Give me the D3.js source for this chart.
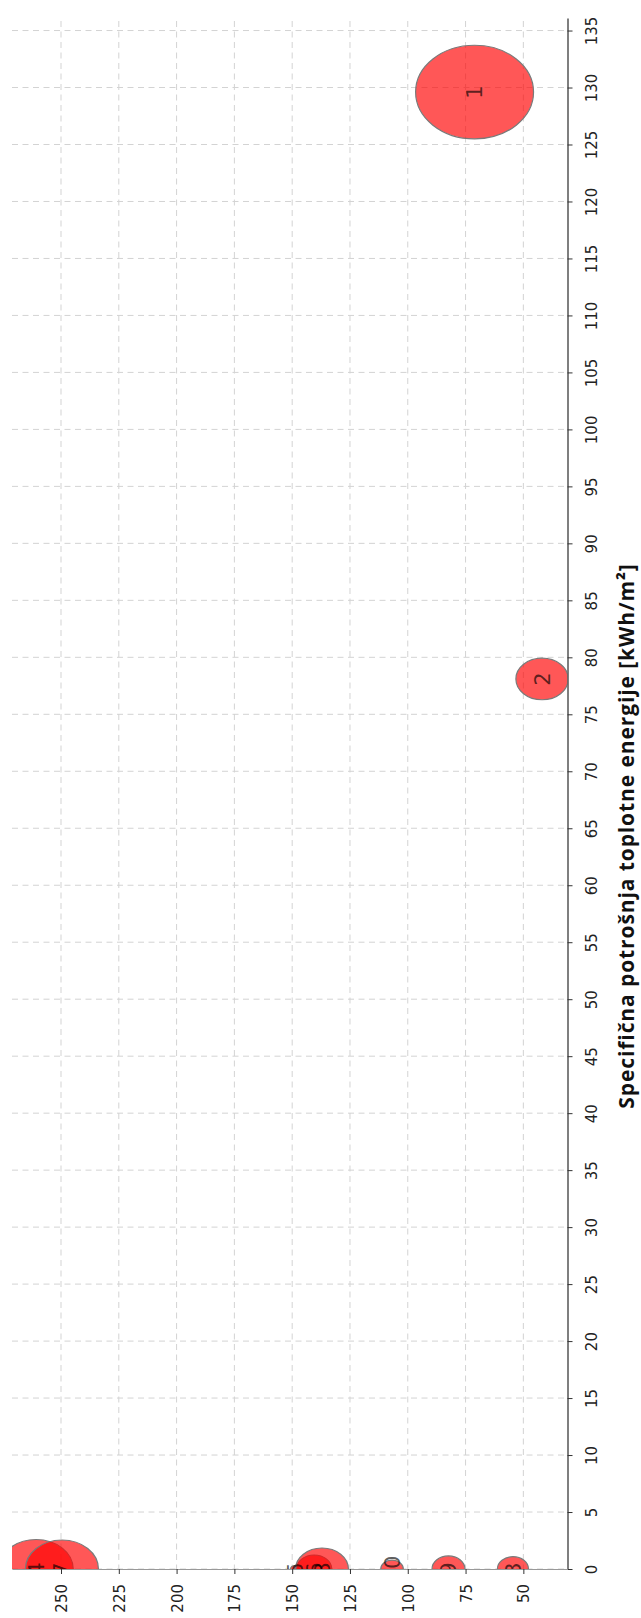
<!DOCTYPE html>
<html>
<head>
<meta charset="utf-8">
<script src="https://cdn.jsdelivr.net/npm/d3@7"></script>
<style>
  body { margin: 0; background: #fff; }
  svg { display: block; }
</style>
</head>
<body>
<div id="chart"></div>
<script>
// bubble data: label, horizontal value, consumption [kWh/m2], bubble size
var labels = ["1", "2", "3", "4", "5", "6", "7", "8", "9", "10"];
var hvalues = [71.1, 41.9, 54.5, 260.8, 148.8, 140.5, 249.6, 137.1, 82.4, 106.8];
var consumption = [129.6, 78.1, 0, 0, 0, 0, 0, 0, 0, 0];
var sizes = [1095, 216, 76, 435, 6, 98, 420, 220, 85, 40];

var rightTicks = d3.range(0, 136, 5);
var bottomTicks = [50, 75, 100, 125, 150, 175, 200, 225, 250];
var axisTitle = "Specifična potrošnja toplotne energije [kWh/m²]";

var width = 641;
var height = 1618;
var plotLeft = 12, plotRight = 567.5, plotTop = 18, plotBottom = 1569;

var svg = d3.select("#chart")
    .append("svg")
    .attr("width", width)
    .attr("height", height);

var x = d3.scaleLinear()
    .domain([271.2, 30.9])
    .range([plotLeft, plotRight]);

var y = d3.scaleLinear()
    .domain([0, 136.1])
    .range([plotBottom, plotTop]);

var r = d3.scaleSqrt()
    .domain([0, 1095])
    .range([0, 46.8]);
var stretch = 1.26; // picture is wider than tall

// grid
svg.append("g")
    .selectAll("line")
    .data(bottomTicks)
    .enter().append("line")
    .attr("x1", function(d) { return x(d); })
    .attr("x2", function(d) { return x(d); })
    .attr("y1", plotTop + 3)
    .attr("y2", plotBottom)
    .attr("stroke", "#d3d3d3")
    .attr("stroke-dasharray", "6,4.5");

svg.append("g")
    .selectAll("line")
    .data(rightTicks)
    .enter().append("line")
    .attr("x1", plotLeft)
    .attr("x2", plotRight)
    .attr("y1", function(d) { return y(d); })
    .attr("y2", function(d) { return y(d); })
    .attr("stroke", "#d3d3d3")
    .attr("stroke-dasharray", "6,4.5");

svg.append("clipPath")
    .attr("id", "plotclip")
    .append("rect")
    .attr("x", plotLeft)
    .attr("y", plotTop)
    .attr("width", plotRight - plotLeft)
    .attr("height", plotBottom - plotTop);

var bubbles = labels.map(function(d, i) {
  return {label: d, h: hvalues[i], c: consumption[i], s: sizes[i]};
});

var plot = svg.append("g")
    .attr("clip-path", "url(#plotclip)");

plot.selectAll("ellipse")
    .data(bubbles)
    .enter().append("ellipse")
    .attr("cx", function(d) { return x(d.h); })
    .attr("cy", function(d) { return y(d.c); })
    .attr("rx", function(d) { return r(d.s) * stretch; })
    .attr("ry", function(d) { return r(d.s); })
    .attr("fill", "red")
    .attr("fill-opacity", 0.66)
    .attr("stroke", "#7a7a7a")
    .attr("stroke-width", 1.2);

plot.selectAll("text")
    .data(bubbles)
    .enter().append("text")
    .attr("transform", function(d) { return "translate(" + x(d.h) + "," + y(d.c) + ") rotate(-90)"; })
    .attr("text-anchor", "middle")
    .attr("dy", "0.36em")
    .attr("font-family", "DejaVu Sans")
    .attr("font-size", 21)
    .attr("fill", "#000")
    .attr("fill-opacity", 0.65)
    .text(function(d) { return d.label; });

// right axis (consumption)
var yaxis = svg.append("g")
    .attr("transform", "translate(" + plotRight + ",0)")
    .call(d3.axisRight(y).tickValues(rightTicks).tickSize(5).tickSizeOuter(0));

yaxis.select(".domain").attr("stroke", "#555").attr("stroke-width", 1.5);
yaxis.selectAll(".tick line").attr("stroke", "#333");
yaxis.selectAll(".tick text")
    .attr("x", null)
    .attr("dy", null)
    .attr("transform", "translate(29.5,0) rotate(-90)")
    .attr("text-anchor", "middle")
    .attr("font-family", "DejaVu Sans")
    .attr("font-size", 15)
    .attr("fill", "#222");

// bottom axis
var xaxis = svg.append("g")
    .attr("transform", "translate(0," + plotBottom + ")")
    .call(d3.axisBottom(x).tickValues(bottomTicks).tickSize(5).tickSizeOuter(0));

xaxis.select(".domain").attr("stroke", "#999");
xaxis.selectAll(".tick line").attr("stroke", "#333");
xaxis.selectAll(".tick text")
    .attr("y", null)
    .attr("dy", null)
    .attr("transform", "translate(5.5,15) rotate(-90)")
    .attr("text-anchor", "end")
    .attr("font-family", "DejaVu Sans")
    .attr("font-size", 15)
    .attr("fill", "#222");

svg.append("text")
    .attr("transform", "translate(634,836) rotate(-90)")
    .attr("text-anchor", "middle")
    .attr("font-family", "Open Sans")
    .attr("font-weight", "bold")
    .attr("font-size", 21)
    .attr("letter-spacing", 0.9)
    .attr("fill", "#111")
    .text(axisTitle);
</script>
</body>
</html>
